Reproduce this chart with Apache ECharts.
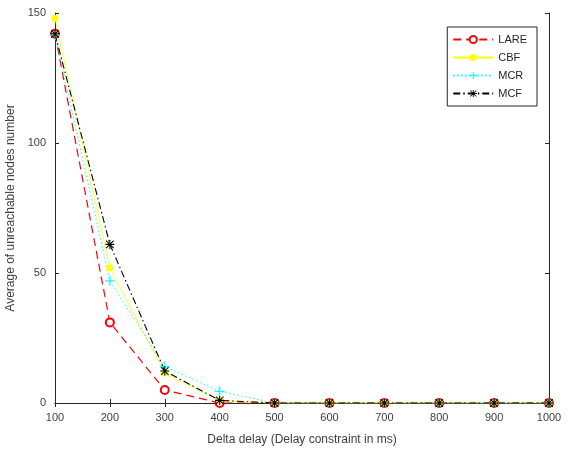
<!DOCTYPE html>
<html>
<head>
<meta charset="utf-8">
<script src="https://cdn.jsdelivr.net/npm/echarts@6/dist/echarts.min.js"></script>
<style>
html, body { margin: 0; padding: 0; background: #fff; }
#main { width: 573px; height: 449px; }
</style>
</head>
<body>
<div id="main"></div>
<script>
var delays = [100, 200, 300, 400, 500, 600, 700, 800, 900, 1000];
var lare = [142, 31, 5, 0, 0, 0, 0, 0, 0, 0];
var cbf = [148, 52, 11.5, 1, 0, 0, 0, 0, 0, 0];
var mcr = [141.5, 47, 14, 4.5, 0, 0, 0, 0, 0, 0];
var mcf = [142, 61, 12.3, 1, 0, 0, 0, 0, 0, 0];

var plusPath = 'path://M4.4,0H5.6V4.4H10V5.6H5.6V10H4.4V5.6H0V4.4H4.4Z';
var starPath = 'path://M4.4,0H5.6V4.4H10V5.6H5.6V10H4.4V5.6H0V4.4H4.4Z' +
    'M1.2,0.4L9.6,8.8L8.8,9.6L0.4,1.2Z M8.8,0.4L9.6,1.2L1.2,9.6L0.4,8.8Z';

function pairs(arr) {
    return delays.map(function (d, i) { return [d, arr[i]]; });
}

var axisColor = '#262626';
var labelColor = '#404040';

var myChart = echarts.init(document.getElementById('main'));
var option = {
    animation: false,
    grid: { left: 55, right: 24, top: 13, bottom: 46, containLabel: false, outerBoundsMode: 'none' },
    legend: {
        orient: 'vertical',
        right: 36,
        top: 27,
        itemWidth: 40,
        itemHeight: 9,
        itemGap: 7,
        padding: [7, 10, 7, 5],
        borderColor: '#262626',
        borderWidth: 1,
        backgroundColor: '#fff',
        textStyle: { fontSize: 11, color: '#262626', fontFamily: 'Liberation Sans' },
        data: ['LARE', 'CBF', 'MCR', 'MCF']
    },
    xAxis: [{
        type: 'value',
        min: 100, max: 1000, interval: 100,
        name: 'Delta delay (Delay constraint in ms)',
        nameLocation: 'middle',
        nameGap: 31,
        nameTextStyle: { fontSize: 12, color: labelColor, fontFamily: 'Liberation Sans' },
        axisLine: { lineStyle: { color: axisColor } },
        axisTick: { inside: true, length: 4, lineStyle: { color: axisColor } },
        axisLabel: {
            fontSize: 11, color: labelColor, fontFamily: 'Liberation Sans', margin: 9,
            formatter: function (v) { return String(v); }
        },
        splitLine: { show: false }
    }, {
        type: 'value', position: 'top',
        min: 100, max: 1000, interval: 100,
        axisLine: { lineStyle: { color: axisColor } },
        axisTick: { inside: true, length: 4, lineStyle: { color: axisColor } },
        axisLabel: { show: false },
        splitLine: { show: false }
    }],
    yAxis: [{
        type: 'value',
        min: 0, max: 150, interval: 50,
        name: 'Average of unreachable nodes number',
        nameLocation: 'middle',
        nameGap: 38,
        nameTextStyle: { fontSize: 12, color: labelColor, fontFamily: 'Liberation Sans' },
        axisLine: { show: true, lineStyle: { color: axisColor } },
        axisTick: { show: true, inside: true, length: 4, lineStyle: { color: axisColor } },
        axisLabel: { fontSize: 11, color: labelColor, fontFamily: 'Liberation Sans', margin: 9 },
        splitLine: { show: false }
    }, {
        type: 'value', position: 'right',
        min: 0, max: 150, interval: 50,
        axisLine: { show: true, lineStyle: { color: axisColor } },
        axisTick: { show: true, inside: true, length: 4, lineStyle: { color: axisColor } },
        axisLabel: { show: false },
        splitLine: { show: false }
    }],
    series: [{
        name: 'LARE',
        type: 'line',
        data: pairs(lare),
        symbol: 'emptyCircle',
        symbolSize: 8,
        color: '#ff0000',
        itemStyle: { color: '#ff0000', borderColor: '#ff0000', borderWidth: 1 },
        lineStyle: { color: '#ff0000', width: 1.2, type: [8, 5] }
    }, {
        name: 'CBF',
        type: 'line',
        data: pairs(cbf),
        symbol: 'circle',
        symbolSize: 7,
        color: '#ffff00',
        itemStyle: { color: '#ffff00' },
        lineStyle: { color: '#ffff00', width: 0.8 }
    }, {
        name: 'MCR',
        type: 'line',
        data: pairs(mcr),
        symbol: plusPath,
        symbolSize: 10,
        color: '#00ffff',
        itemStyle: { color: '#00ffff' },
        lineStyle: { color: '#00ffff', width: 1, type: [1.5, 2.5] }
    }, {
        name: 'MCF',
        type: 'line',
        data: pairs(mcf),
        symbol: starPath,
        symbolSize: 9,
        color: '#000000',
        itemStyle: { color: '#000000' },
        lineStyle: { color: '#000000', width: 1.1, type: [7, 3, 1.5, 3] }
    }]
};
myChart.setOption(option);
</script>
</body>
</html>
